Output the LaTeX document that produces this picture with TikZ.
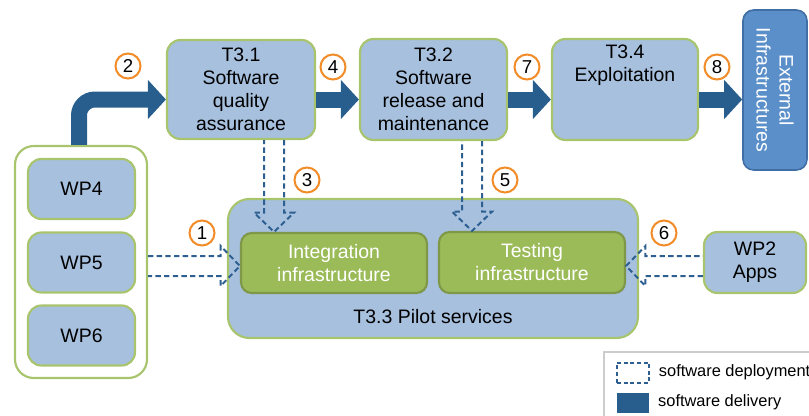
\documentclass[tikz,border=0pt]{standalone}
\usepackage{fontspec}
\setmainfont{Liberation Sans}
\usetikzlibrary{arrows.meta,positioning,calc}
\definecolor{taskblue}{RGB}{166,192,222}
\definecolor{taskgreen}{RGB}{168,197,110}
\definecolor{infragreen}{RGB}{155,187,89}
\definecolor{infraborder}{RGB}{126,152,72}
\definecolor{deliveryblue}{RGB}{40,94,142}
\definecolor{deployblue}{RGB}{45,95,145}
\definecolor{extblue}{RGB}{91,143,201}
\definecolor{extborder}{RGB}{64,110,165}
\definecolor{numorange}{RGB}{242,140,40}
\newlength{\pxl}
\setlength{\pxl}{0.75pt}
\tikzset{
    taskbox/.style={rectangle, draw=taskgreen, fill=taskblue, line width=1.6pt, rounded corners=10pt, align=center, font=\fontsize{14.6}{17.25}\selectfont},
    wpbox/.style={taskbox, minimum width=107\pxl, minimum height=60\pxl},
    infrabox/.style={rectangle, draw=infraborder, fill=infragreen, line width=1.6pt, rounded corners=8pt, align=center, text=white, minimum width=186\pxl, minimum height=60\pxl, font=\fontsize{14.6}{17.25}\selectfont},
    extbox/.style={rectangle, draw=extborder, fill=extblue, line width=1.2pt, rounded corners=8pt, align=center, text=white, rotate=-90, font=\fontsize{14.6}{17.25}\selectfont},
    stepnum/.style={circle, draw=numorange, fill=white, line width=1.5pt, minimum size=25\pxl, inner sep=0pt, font=\fontsize{14}{14}\selectfont},
    delivery/.style={draw=deliveryblue, line width=12pt, -{Triangle[width=28.5pt,length=13.5pt]}},
    deployment/.style={draw=deployblue, line width=1.5pt, dash pattern=on 4pt off 2.5pt,
        to path={let \p1=($(\tikztotarget)!14.5pt!(\tikztostart)$) in
            ($(\tikztostart)!7.5pt!90:(\tikztotarget)$) -- ($(\p1)!7.5pt!90:(\tikztotarget)$)
            -- ($(\p1)!15pt!90:(\tikztotarget)$) -- (\tikztotarget)
            -- ($(\p1)!15pt!-90:(\tikztotarget)$) -- ($(\p1)!7.5pt!-90:(\tikztotarget)$)
            -- ($(\tikztostart)!7.5pt!-90:(\tikztotarget)$)}},
    legendtext/.style={inner sep=0pt, anchor=west, font=\fontsize{12.3}{14}\selectfont}
}
\begin{document}
\begin{tikzpicture}[x=0.75pt, y=-0.75pt]
    \useasboundingbox (0,0) rectangle (809,415);

    % Tasks on top row
    \node [taskbox, minimum width=148\pxl, minimum height=99\pxl] (t31) at (241,89.5) {T3.1\\Software\\quality\\assurance};
    \node [taskbox, minimum width=147\pxl, minimum height=101\pxl] (t32) at (433.5,89.5) {T3.2\\Software\\release and\\maintenance};
    \node [taskbox, minimum width=146\pxl, minimum height=101\pxl] (t34) at (625,89.5) {T3.4\\Exploitation\\\strut\\\strut};
    \node [extbox, minimum width=160\pxl, minimum height=64\pxl] (ext) at (775,90) {External\\Infrastructures};

    % Work packages
    \node [rectangle, draw=taskgreen, fill=white, line width=1.6pt, rounded corners=14pt, minimum width=132\pxl, minimum height=232\pxl] (wpgroup) at (81,262) {};
    \node [wpbox] (wp4) at (81.5,189) {WP4};
    \node [wpbox] (wp5) at (81.5,262.5) {WP5};
    \node [wpbox] (wp6) at (81.5,335.5) {WP6};
    \node [taskbox, minimum width=102\pxl, minimum height=61\pxl] (wp2) at (755,262.5) {WP2\\Apps};

    % Pilot services
    \node [taskbox, rounded corners=16pt, minimum width=410\pxl, minimum height=139\pxl] (pilot) at (433,268.5) {};
    \node [font=\fontsize{14.6}{17.25}\selectfont] (pilottext) at (433,317) {T3.3 Pilot services};
    \node [infrabox] (integ) at (334,263) {Integration\\infrastructure};
    \node [infrabox, minimum height=61\pxl] (testing) at (532,262.5) {Testing\\infrastructure};

    % Software delivery
    \draw [delivery, rounded corners=16\pxl] ([xshift=-2\pxl]wpgroup.north) |- ([yshift=-10\pxl]t31.west);
    \draw [delivery] ([yshift=-10\pxl]t31.east) -- ([yshift=-10\pxl]t32.west);
    \draw [delivery] ([yshift=-10\pxl]t32.east) -- ([yshift=-10\pxl]t34.west);
    \draw [delivery] ([yshift=-10\pxl]t34.east) -- ([yshift=-10\pxl]t34.east -| ext.south);

    % Software deployment
    \draw [deployment] ([yshift=-4\pxl]wpgroup.east) to ([yshift=-4\pxl]wpgroup.east -| integ.west);
    \draw [deployment] ([xshift=33\pxl]t31.south) to ([xshift=33\pxl]t31.south |- integ.north);
    \draw [deployment] ([xshift=38.5\pxl]t32.south) to ([xshift=38.5\pxl]t32.south |- testing.north);
    \draw [deployment] ([yshift=-3.5\pxl]wp2.west) to ([yshift=-3.5\pxl]wp2.west -| testing.east);

    % Step numbers
    \node [stepnum] (n1) at (202,233) {1};
    \node [stepnum] (n2) at (128,66) {2};
    \node [stepnum] (n3) at (307,180) {3};
    \node [stepnum] (n4) at (333,67) {4};
    \node [stepnum] (n5) at (505,180) {5};
    \node [stepnum] (n6) at (664,233) {6};
    \node [stepnum] (n7) at (527,67) {7};
    \node [stepnum] (n8) at (717,67) {8};

    % Legend
    \node [rectangle, draw=black!20, line width=1pt, fill=white, minimum width=212\pxl, minimum height=68\pxl] (legend) at (710,386) {};
    \node [rectangle, draw=deployblue, line width=1.5pt, dash pattern=on 3pt off 2pt, minimum width=32\pxl, minimum height=20\pxl] (keydeploy) at (633,372.5) {};
    \node [rectangle, fill=deliveryblue, minimum width=32\pxl, minimum height=20\pxl] (keydelivery) at (633,402.5) {};
    \node [legendtext, right=6.5pt of keydeploy] (deploytext) {software deployment};
    \node [legendtext, right=6.5pt of keydelivery] (deliverytext) {software delivery};
\end{tikzpicture}
\end{document}
